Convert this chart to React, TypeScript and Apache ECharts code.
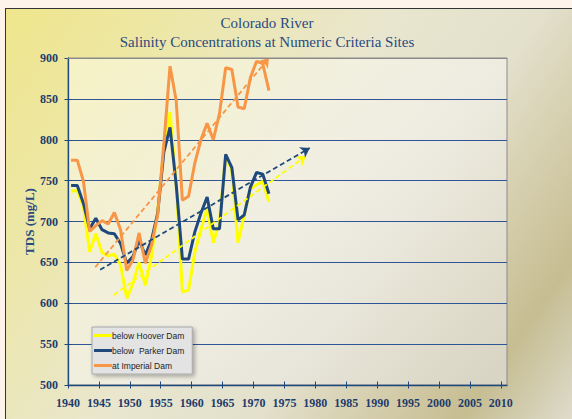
import React, { useEffect, useRef } from "react";
import * as echarts from "echarts";

// Water years (points plotted at mid-year)
const years = [
  1940, 1941, 1942, 1943, 1944, 1945, 1946, 1947, 1948, 1949,
  1950, 1951, 1952, 1953, 1954, 1955, 1956, 1957, 1958, 1959,
  1960, 1961, 1962, 1963, 1964, 1965, 1966, 1967, 1968, 1969,
  1970, 1971, 1972,
];
const hoover = [
  737, 738, 718, 663, 685, 662, 658, 660, 647, 606,
  624, 650, 622, 657, 714, 790, 834, 745, 614, 616,
  662, 690, 716, 674, 700, 781, 762, 674, 708, 740,
  745, 749, 724,
];
const parker = [
  744, 744, 722, 691, 704, 690, 686, 685, 673, 649,
  657, 677, 659, 677, 710, 785, 815, 745, 654, 654,
  687, 710, 730, 691, 691, 782, 766, 702, 708, 742,
  760, 758, 734,
];
const imperial = [
  775, 775, 749, 688, 695, 701, 697, 711, 690, 640,
  653, 686, 649, 671, 708, 795, 890, 848, 726, 731,
  771, 800, 820, 800, 832, 888, 886, 840, 838, 876,
  896, 893, 860,
];
// trend arrows: [start, end] as [year, TDS]
const hooverTrend = [[1947.4, 610], [1978.5, 780]];
const parkerTrend = [[1945.2, 641], [1979.1, 790]];
const imperialTrend = [[1944.4, 644], [1972.5, 900]];

const xTicks = [1940, 1945, 1950, 1955, 1960, 1965, 1970, 1975, 1980, 1985, 1990, 1995, 2000, 2005, 2010];
const seriesNames = ["below Hoover Dam", "below  Parker Dam", "at Imperial Dam"];
const titleLines = ["Colorado River", "Salinity Concentrations at Numeric Criteria Sites"];
const yName = "TDS (mg/L)";

const NAVY = "#1f497d";
const LABEL = "#1f3b6b";
const SERIF = "'Liberation Serif', 'DejaVu Serif', serif";

export default function App() {
  const ref = useRef<HTMLDivElement>(null);
  useEffect(() => {
    if (!ref.current) return;
    const chart = echarts.init(ref.current, undefined, { renderer: "svg" });
    const mk = (name: string, vals: number[], color: string, trend: number[][], trendColor: string) => ({
      name,
      type: "line",
      xAxisIndex: 0,
      yAxisIndex: 0,
      data: years.map((y, i) => [y + 0.5, vals[i]]),
      showSymbol: false,
      symbol: "none",
      clip: false,
      lineStyle: { width: 3, color },
      itemStyle: { color },
      emphasis: { disabled: true },
      markLine: {
        silent: true,
        symbol: ["none", "arrow"],
        symbolSize: 9,
        label: { show: false },
        emphasis: { disabled: true },
        lineStyle: { type: [5, 3], width: 1.8, color: trendColor },
        data: [[{ coord: trend[0] }, { coord: trend[1] }]],
      },
    });
    const axisLabelFont = { color: LABEL, fontFamily: SERIF, fontWeight: "bold", fontSize: 12 };
    chart.setOption({
      animation: false,
      backgroundColor: "transparent",
      grid: {
        left: 68,
        top: 58,
        right: 65,
        bottom: 34,
        show: true,
        borderColor: "#8a8a8a",
        borderWidth: 1,
        backgroundColor: {
          type: "linear",
          x: 0, y: 0, x2: 1, y2: 1,
          colorStops: [
            { offset: 0, color: "rgba(252,250,225,0.6)" },
            { offset: 0.5, color: "rgba(245,244,238,0.6)" },
            { offset: 1, color: "rgba(222,220,212,0.75)" },
          ],
        },
      },
      graphic: [
        {
          type: "text",
          x: 267,
          y: 23,
          style: { text: titleLines[0], textAlign: "center", textVerticalAlign: "middle", fill: "#2a4a7f", font: `15px ${SERIF}` },
        },
        {
          type: "text",
          x: 267,
          y: 42,
          style: { text: titleLines[1], textAlign: "center", textVerticalAlign: "middle", fill: "#2a4a7f", font: `15px ${SERIF}` },
        },
      ],
      legend: {
        orient: "vertical",
        left: 92,
        top: 327,
        data: seriesNames,
        icon: "rect",
        itemWidth: 18,
        itemHeight: 3,
        itemGap: 6,
        padding: [4, 8, 4, 2],
        backgroundColor: "#e3e3e3",
        borderColor: "#a8a8a8",
        borderWidth: 1,
        shadowBlur: 4,
        shadowColor: "rgba(0,0,0,0.3)",
        shadowOffsetX: 2,
        shadowOffsetY: 2,
        selectedMode: false,
        textStyle: { fontFamily: "'Liberation Sans', Arial, sans-serif", fontSize: 8.5, color: "#222", padding: [0, 0, 0, -5] },
      },
      xAxis: [
        {
          type: "value",
          min: 1940,
          max: 2011,
          position: "bottom",
          axisLine: { show: true, lineStyle: { color: NAVY, width: 1.3 } },
          axisTick: { show: true, customValues: xTicks, length: 3.5, lineStyle: { color: NAVY, width: 1 } },
          axisLabel: { customValues: xTicks, margin: 12, formatter: (v: number) => String(v), ...axisLabelFont },
          splitLine: { show: false },
        },
        {
          type: "value",
          min: 1940,
          max: 2011,
          position: "top",
          z: 5,
          axisLine: { show: true, lineStyle: { color: "#8a8a8a", width: 1 } },
          axisTick: { show: false },
          axisLabel: { show: false },
          splitLine: { show: false },
        },
        {
          type: "value",
          min: 1940,
          max: 2011,
          position: "bottom",
          offset: 0,
          axisLine: { show: false },
          axisTick: { show: true, inside: true, customValues: xTicks, length: 3.5, lineStyle: { color: NAVY, width: 1 } },
          axisLabel: { show: false },
          splitLine: { show: false },
        },
      ],
      yAxis: [
        {
          type: "value",
          min: 500,
          max: 900,
          interval: 50,
          position: "left",
          name: yName,
          nameLocation: "middle",
          nameRotate: 90,
          nameGap: 32,
          nameMoveOverlap: false,
          nameTextStyle: { color: "#2a4a7f", fontFamily: SERIF, fontWeight: "bold", fontSize: 13 },
          axisLine: { show: true, lineStyle: { color: NAVY, width: 1.3 } },
          axisTick: { show: true, length: 3.5, lineStyle: { color: NAVY, width: 1 } },
          axisLabel: { margin: 10, formatter: (v: number) => String(v), ...axisLabelFont },
          splitLine: { show: true, lineStyle: { color: "#2f5597", width: 1.2 } },
        },
        {
          type: "value",
          min: 500,
          max: 900,
          interval: 50,
          position: "left",
          offset: 0,
          axisLine: { show: false },
          axisTick: { show: true, inside: true, length: 3.5, lineStyle: { color: NAVY, width: 1 } },
          axisLabel: { show: false },
          splitLine: { show: false },
        },
      ],
      series: [
        mk(seriesNames[0], hoover, "#ffff00", hooverTrend, "#ffff00"),
        mk(seriesNames[1], parker, NAVY, parkerTrend, "#1f497d"),
        mk(seriesNames[2], imperial, "#f79646", imperialTrend, "#f79646"),
      ],
    });
    return () => chart.dispose();
  }, []);

  return (
    <div style={{ position: "fixed", left: 0, top: 0, width: 572, height: 419, background: "#fdf3ea", overflow: "hidden" }}>
      <div
        style={{
          position: "absolute",
          left: 5,
          top: 8,
          width: 620,
          height: 440,
          borderLeft: "1.5px solid #333",
          borderTop: "1.5px solid #333",
          background:
            "linear-gradient(125deg, #efe68c 0%, #ede7a6 18%, #e9e6cf 42%, #e3e0cc 58%, #d2caa6 72%, #c6bd92 80%, #d6d1b8 88%, #e6e4dc 95%)",
        }}
      />
      <div ref={ref} style={{ position: "absolute", left: 0, top: 0, width: 572, height: 419 }} />
    </div>
  );
}
